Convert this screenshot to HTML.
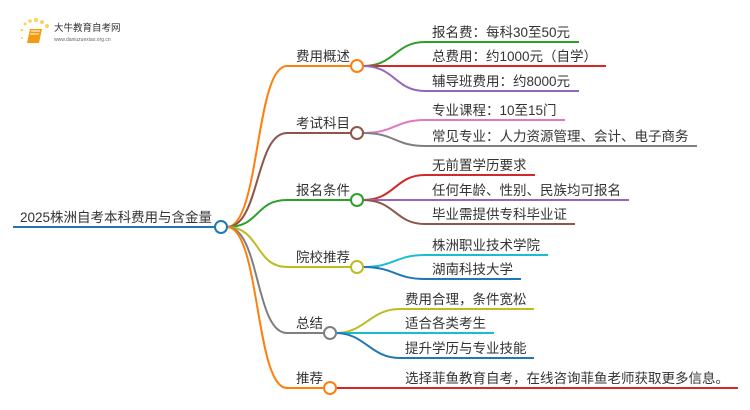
<!DOCTYPE html>
<html><head><meta charset="utf-8"><style>
html,body{margin:0;padding:0;background:#fff;width:750px;height:410px;overflow:hidden}
svg{display:block}
text{font-family:"Liberation Sans","Noto Sans CJK SC",sans-serif;fill:#333;font-size:13.5px}
</style></head><body>
<svg width="750" height="410" viewBox="0 0 750 410" xmlns="http://www.w3.org/2000/svg">
<g>
<circle cx="25" cy="24" r="1.5" fill="#fcd25a"/><circle cx="30" cy="21" r="1.8" fill="#fcd25a"/><circle cx="36" cy="20" r="2" fill="#fcd25a"/><circle cx="42" cy="22" r="2" fill="#fcd25a"/><circle cx="47" cy="26" r="2" fill="#fcd25a"/><circle cx="22" cy="30" r="1.3" fill="#fcd25a"/><circle cx="22" cy="38" r="1" fill="#fcd25a"/>
<path d="M30 29 L42 29 L39 43 L27 43 Z" fill="#f39c12"/><path d="M31 31 L40 31 M30 34 L39 34" stroke="#fff" stroke-width="1"/>
<text x="54" y="31" style="font-size:9.5px;fill:#333">大牛教育自考网</text>
<text x="54" y="41" style="font-size:5px;fill:#666">www.daniuzuexiao.org.cn</text>
</g>
<g fill="none" stroke-width="2">
<path d="M13 227 H215" stroke="#1f77b4"/>
<path d="M227 227 C260 227 255 66 287 66 H351" stroke="#ff7f0e"/>
<path d="M227 227 C260 227 255 133 287 133 H351" stroke="#8c564b"/>
<path d="M227 227 C260 227 255 200 287 200 H351" stroke="#2ca02c"/>
<path d="M227 227 C260 227 255 267 287 267 H351" stroke="#bcbd22"/>
<path d="M227 227 C260 227 255 333 287 333 H324" stroke="#7f7f7f"/>
<path d="M227 227 C260 227 255 388 287 388 H324" stroke="#ff7f0e"/>
<path d="M363 66 C395 66 395 42 425 42 H579" stroke="#2ca02c"/>
<path d="M363 66 H606" stroke="#d62728"/>
<path d="M363 66 C395 66 395 91 425 91 H579" stroke="#9467bd"/>
<path d="M363 133 C395 133 395 120 425 120 H565" stroke="#e377c2"/>
<path d="M363 133 C395 133 395 146 425 146 H697" stroke="#7f7f7f"/>
<path d="M363 200 C395 200 395 175 425 175 H535" stroke="#d62728"/>
<path d="M363 200 H629" stroke="#9467bd"/>
<path d="M363 200 C395 200 395 224 425 224 H575" stroke="#8c564b"/>
<path d="M363 267 C395 267 395 255 425 255 H548" stroke="#17becf"/>
<path d="M363 267 C395 267 395 279 425 279 H521" stroke="#1f77b4"/>
<path d="M336 333 C365 333 370 309 400 309 H534" stroke="#bcbd22"/>
<path d="M336 333 H494" stroke="#17becf"/>
<path d="M336 333 C365 333 370 358 400 358 H534" stroke="#1f77b4"/>
<path d="M336 388 H738" stroke="#d62728"/>
<circle cx="221" cy="227" r="6" stroke="#1f77b4" fill="#fff"/>
<circle cx="357" cy="66" r="6" stroke="#ff7f0e" fill="#fff"/>
<circle cx="357" cy="133" r="6" stroke="#8c564b" fill="#fff"/>
<circle cx="357" cy="200" r="6" stroke="#2ca02c" fill="#fff"/>
<circle cx="357" cy="267" r="6" stroke="#bcbd22" fill="#fff"/>
<circle cx="330" cy="333" r="6" stroke="#7f7f7f" fill="#fff"/>
<circle cx="330" cy="388" r="6" stroke="#ff7f0e" fill="#fff"/>
</g>
<text x="20" y="222">2025株洲自考本科费用与含金量</text>
<text x="296" y="61">费用概述</text>
<text x="296" y="128">考试科目</text>
<text x="296" y="195">报名条件</text>
<text x="296" y="262">院校推荐</text>
<text x="296" y="328">总结</text>
<text x="296" y="383">推荐</text>
<text x="432" y="37">报名费：每科30至50元</text>
<text x="432" y="61">总费用：约1000元（自学）</text>
<text x="432" y="86">辅导班费用：约8000元</text>
<text x="432" y="115">专业课程：10至15门</text>
<text x="432" y="141">常见专业：人力资源管理、会计、电子商务</text>
<text x="432" y="170">无前置学历要求</text>
<text x="432" y="195">任何年龄、性别、民族均可报名</text>
<text x="432" y="219">毕业需提供专科毕业证</text>
<text x="432" y="250">株洲职业技术学院</text>
<text x="432" y="274">湖南科技大学</text>
<text x="405" y="304">费用合理，条件宽松</text>
<text x="405" y="328">适合各类考生</text>
<text x="405" y="353">提升学历与专业技能</text>
<text x="405" y="383">选择菲鱼教育自考，在线咨询菲鱼老师获取更多信息。</text>
</svg>
</body></html>
